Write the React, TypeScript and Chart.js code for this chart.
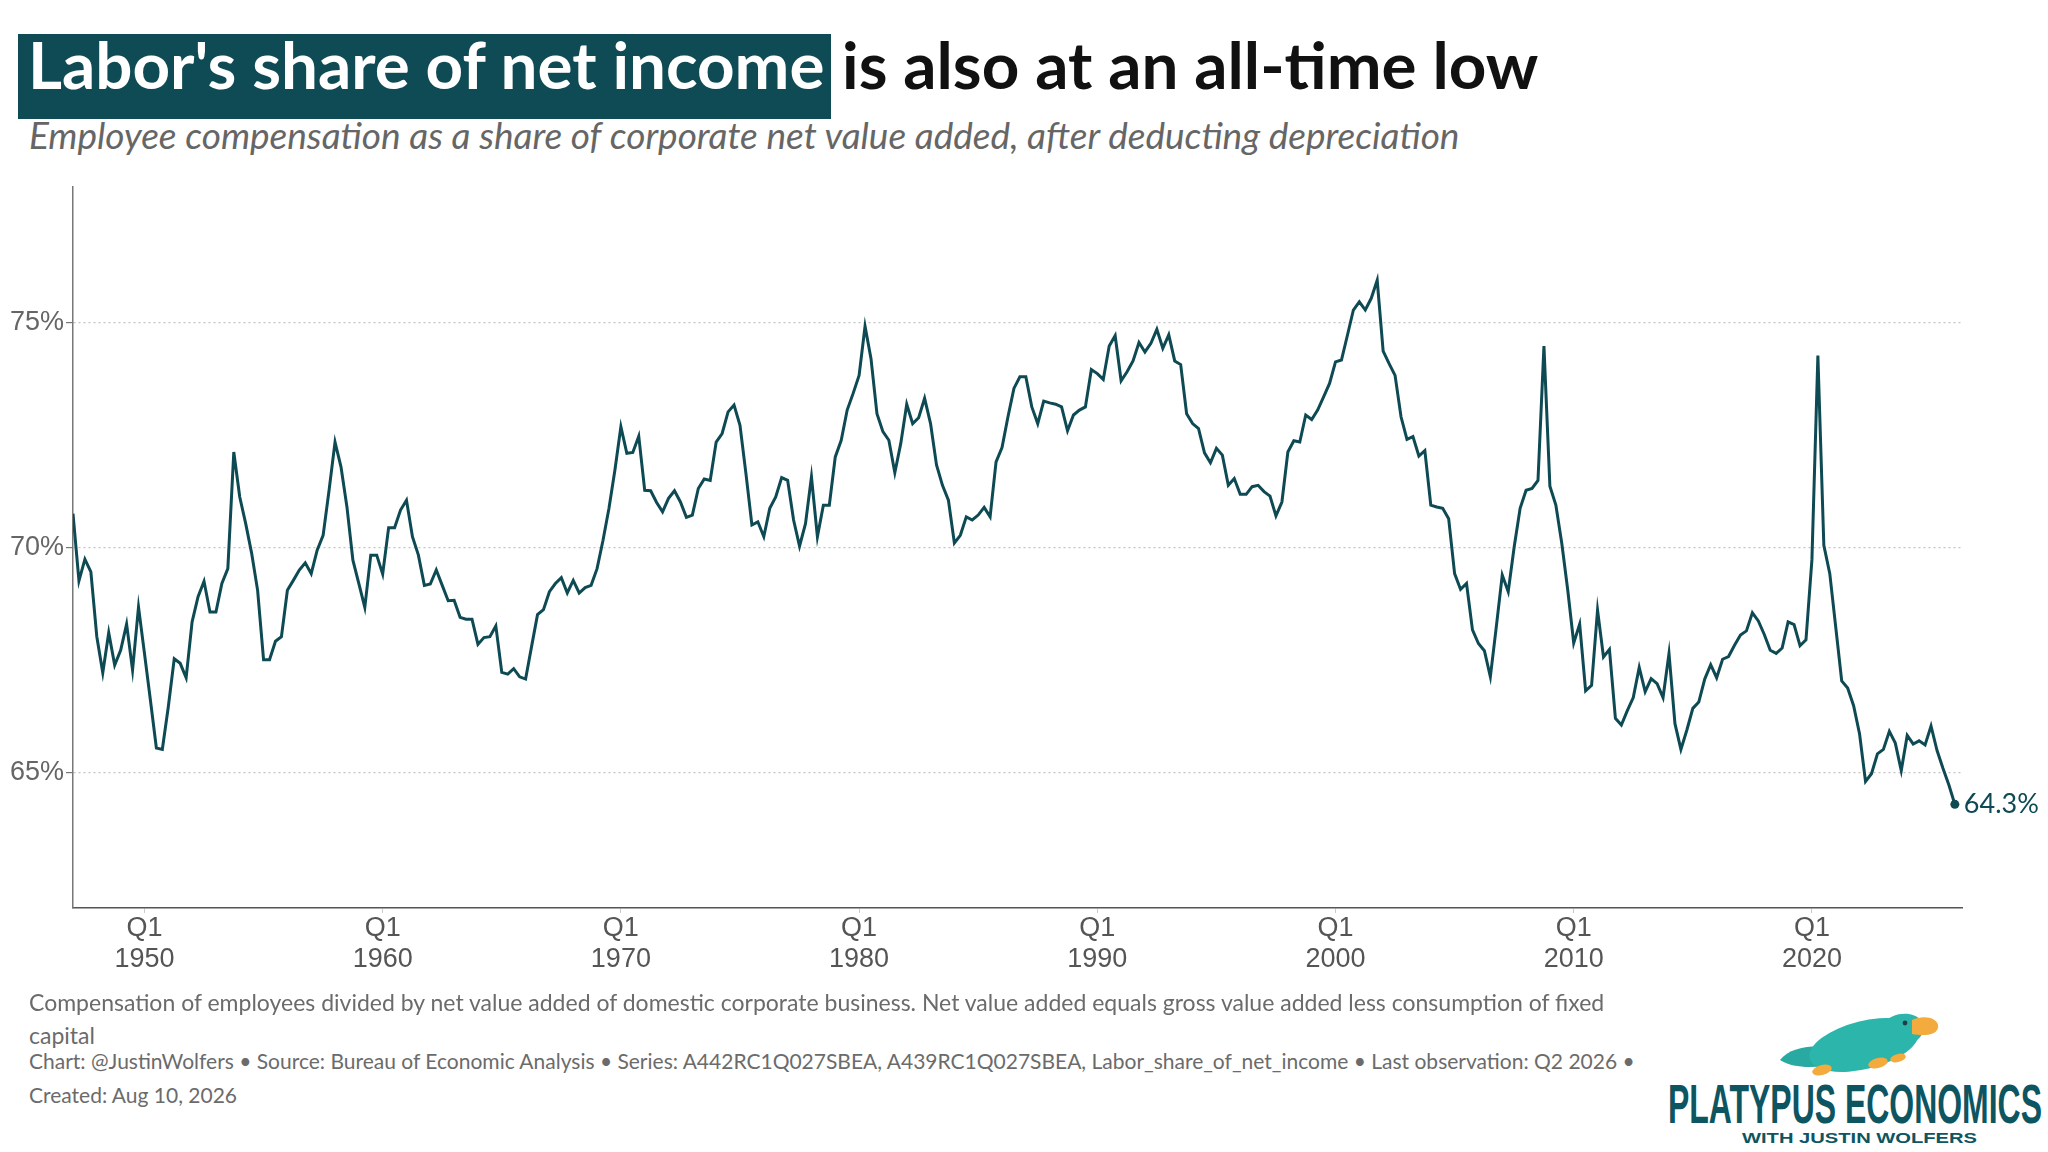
import { useEffect, useRef } from 'react';
import { Chart, registerables } from 'chart.js';

Chart.register(...registerables);

// Labor's share of net income (%), quarterly, starting 1947 Q1
const share1947s = [70.75, 69.26, 69.74, 69.46, 68.02, 67.22, 68.11, 67.39, 67.72, 68.3, 67.28, 68.68];
const share1950s = [
  67.65, 66.61, 65.55, 65.52, 66.46, 67.53, 67.43, 67.11, 68.35, 68.91,
  69.25, 68.57, 68.57, 69.2, 69.53, 72.12, 71.12, 70.53, 69.87, 69.05,
  67.51, 67.51, 67.92, 68.02, 69.05, 69.27, 69.5, 69.66, 69.42, 69.94,
  70.27, 71.27, 72.34, 71.79, 70.9, 69.72, 69.2, 68.67, 69.83, 69.83,
];
const share1960s = [
  69.41, 70.44, 70.44, 70.83, 71.05, 70.24, 69.83, 69.16, 69.19, 69.5,
  69.16, 68.82, 68.83, 68.45, 68.41, 68.41, 67.85, 68.0, 68.02, 68.26,
  67.23, 67.19, 67.31, 67.13, 67.08, 67.8, 68.51, 68.62, 69.02, 69.2,
  69.33, 68.99, 69.27, 68.99, 69.11, 69.16, 69.53, 70.16, 70.87, 71.72,
];
const share1970s = [
  72.68, 72.09, 72.11, 72.47, 71.27, 71.26, 71.0, 70.79, 71.09, 71.26,
  71.01, 70.67, 70.72, 71.31, 71.52, 71.49, 72.34, 72.53, 73.01, 73.16,
  72.71, 71.64, 70.5, 70.57, 70.24, 70.87, 71.12, 71.55, 71.49, 70.61,
  70.03, 70.53, 71.57, 70.24, 70.94, 70.94, 72.01, 72.38, 73.05, 73.42,
];
const share1980s = [
  73.82, 74.91, 74.19, 72.97, 72.57, 72.38, 71.66, 72.31, 73.18, 72.75,
  72.88, 73.31, 72.75, 71.83, 71.38, 71.05, 70.1, 70.27, 70.68, 70.61,
  70.72, 70.89, 70.68, 71.9, 72.22, 72.9, 73.53, 73.79, 73.79, 73.12,
  72.75, 73.25, 73.21, 73.18, 73.12, 72.59, 72.94, 73.05, 73.12, 73.95,
];
const share1990s = [
  73.86, 73.73, 74.47, 74.7, 73.7, 73.9, 74.14, 74.55, 74.34, 74.53,
  74.84, 74.42, 74.72, 74.14, 74.06, 72.97, 72.75, 72.64, 72.1, 71.88,
  72.2, 72.05, 71.38, 71.53, 71.18, 71.18, 71.35, 71.38, 71.24, 71.14,
  70.7, 71.01, 72.12, 72.37, 72.34, 72.94, 72.84, 73.05, 73.34, 73.64,
];
const share2000s = [
  74.12, 74.16, 74.71, 75.27, 75.45, 75.27, 75.53, 75.93, 74.36, 74.08,
  73.82, 72.9, 72.4, 72.46, 72.03, 72.15, 70.94, 70.9, 70.87, 70.64,
  69.42, 69.07, 69.2, 68.17, 67.87, 67.71, 67.13, 68.24, 69.39, 69.02,
  70.01, 70.87, 71.27, 71.31, 71.49, 74.47, 71.36, 70.94, 70.09, 69.05,
];
const share2010s = [
  67.88, 68.3, 66.82, 66.94, 68.61, 67.57, 67.74, 66.21, 66.06, 66.38,
  66.67, 67.34, 66.8, 67.09, 66.98, 66.67, 67.65, 66.09, 65.52, 65.95,
  66.43, 66.57, 67.08, 67.4, 67.11, 67.52, 67.58, 67.83, 68.06, 68.15,
  68.55, 68.37, 68.07, 67.72, 67.65, 67.77, 68.35, 68.29, 67.82, 67.95,
];
const share2020s = [
  69.73, 74.26, 70.05, 69.42, 68.23, 67.04, 66.88, 66.49, 65.86, 64.81,
  64.98, 65.42, 65.52, 65.92, 65.66, 65.05, 65.83, 65.64, 65.71, 65.62,
  66.04, 65.5, 65.1, 64.73, 64.3,
];

const shareValues = [
  ...share1947s, ...share1950s, ...share1960s, ...share1970s, ...share1980s,
  ...share1990s, ...share2000s, ...share2010s, ...share2020s,
];
const firstYear = 1947;
const xTickYears = [1950, 1960, 1970, 1980, 1990, 2000, 2010, 2020];
const yTickValues = [65, 70, 75];

const TEAL = '#0e4a53';
const GREY_TEXT = '#666666';

const endLabel = {
  id: 'endLabel',
  afterDatasetsDraw(chart: any) {
    const meta = chart.getDatasetMeta(0);
    const last = meta.data[meta.data.length - 1];
    if (!last) return;
    const ctx = chart.ctx;
    ctx.save();
    ctx.font = '27px Lato';
    ctx.fillStyle = TEAL;
    ctx.textAlign = 'left';
    ctx.textBaseline = 'middle';
    ctx.fillText(shareValues[shareValues.length - 1].toFixed(1) + '%', last.x + 9, last.y);
    ctx.restore();
  },
};

function LaborShareChart() {
  const canvasRef = useRef<HTMLCanvasElement>(null);

  useEffect(() => {
    if (!canvasRef.current) return;
    const lastIndex = shareValues.length - 1;

    const chart = new Chart(canvasRef.current, {
      type: 'line',
      data: {
        datasets: [{
          data: shareValues.map((v, i) => ({ x: firstYear + i / 4, y: v })),
          borderColor: TEAL,
          backgroundColor: TEAL,
          borderWidth: 3,
          tension: 0,
          pointRadius: (c: any) => (c.dataIndex === lastIndex ? 4.5 : 0),
          pointHoverRadius: 0,
          pointBorderWidth: 0,
        }],
      },
      options: {
        animation: false,
        responsive: true,
        maintainAspectRatio: false,
        layout: { padding: { top: 37, right: 86, left: 0, bottom: 0 } },
        plugins: {
          legend: { display: false },
          tooltip: { enabled: false },
        },
        scales: {
          x: {
            type: 'linear',
            min: 1947,
            max: 2026.3,
            afterBuildTicks: (scale: any) => {
              scale.ticks = xTickYears.map((v) => ({ value: v }));
            },
            afterFit: (scale: any) => {
              scale.height = 82;
            },
            ticks: {
              autoSkip: false,
              maxRotation: 0,
              padding: 0,
              color: '#555555',
              font: { family: 'Liberation Sans', size: 27, lineHeight: 1.15 },
              callback: (v: any) => ['Q1', String(v)],
            },
            grid: {
              drawOnChartArea: false,
              drawTicks: true,
              tickLength: 5,
              color: '#cccccc',
            },
            border: { color: '#555555', width: 1.5 },
          },
          y: {
            min: 62,
            max: 78,
            afterBuildTicks: (scale: any) => {
              scale.ticks = yTickValues.map((v) => ({ value: v }));
            },
            afterFit: (scale: any) => {
              scale.width = 73;
            },
            ticks: {
              padding: 2,
              color: GREY_TEXT,
              font: { family: 'Liberation Sans', size: 27 },
              callback: (v: any) => v + '%',
            },
            grid: {
              color: '#c4c4c4',
              lineWidth: 1.2,
              tickLength: 7,
              tickColor: '#777777',
              tickBorderDash: [],
            },
            border: { color: '#777777', width: 1.5, dash: [2, 3] },
          },
        },
      },
      plugins: [endLabel],
    });

    return () => chart.destroy();
  }, []);

  return <canvas ref={canvasRef} />;
}

function Logo() {
  return (
    <svg width={408} height={162} style={{ position: 'absolute', left: 1640, top: 990 }}>
      <g>
        <path d="M140 70 C150 56 178 54 196 58 L200 72 C182 78 156 80 140 70 Z" fill="#28a9a1" />
        <ellipse cx={224} cy={55} rx={56} ry={24} transform="rotate(-14 224 55)" fill="#2bb5ab" />
        <ellipse cx={262} cy={40} rx={22} ry={16} transform="rotate(-12 262 40)" fill="#2bb5ab" />
        <path d="M272 30 C284 24 300 28 298 38 C296 46 282 46 272 44 Z" fill="#f2ab3c" />
        <circle cx={265} cy={33} r={2.4} fill="#1d3f49" />
        <ellipse cx={182} cy={80} rx={10} ry={5} transform="rotate(-15 182 80)" fill="#f2ab3c" />
        <ellipse cx={238} cy={73} rx={10} ry={5} transform="rotate(-15 238 73)" fill="#f2ab3c" />
        <ellipse cx={258} cy={68} rx={8} ry={4} transform="rotate(-15 258 68)" fill="#f2ab3c" />
      </g>
      <text
        x={28}
        y={133}
        textLength={374}
        lengthAdjust="spacingAndGlyphs"
        fontFamily="'Liberation Sans Narrow', 'Liberation Sans'"
        fontWeight="bold"
        fontSize={55}
        fill="#0d5560"
      >
        PLATYPUS ECONOMICS
      </text>
      <text
        x={102}
        y={153}
        textLength={235}
        lengthAdjust="spacingAndGlyphs"
        fontFamily="'Liberation Sans'"
        fontWeight="bold"
        fontSize={15}
        fill="#0d5560"
      >
        WITH JUSTIN WOLFERS
      </text>
    </svg>
  );
}

export default function App() {
  const footStyle: any = {
    position: 'absolute',
    left: 29,
    fontFamily: 'Lato',
    lineHeight: '30px',
    color: '#6b6b6b',
    whiteSpace: 'nowrap',
  };

  return (
    <div style={{ position: 'fixed', left: 0, top: 0, width: 2048, height: 1152, background: '#fff', overflow: 'hidden' }}>
      <div
        style={{
          position: 'absolute', left: 18, top: 34, width: 813, height: 85,
          background: '#0f4b54', color: '#fff', boxSizing: 'border-box', paddingLeft: 10,
          fontFamily: 'Lato', fontWeight: 700, fontSize: 65.5, lineHeight: '60px', whiteSpace: 'nowrap',
        }}
      >
        Labor's share of net income
      </div>
      <div
        style={{
          position: 'absolute', left: 842, top: 34, color: '#111',
          fontFamily: 'Lato', fontWeight: 700, fontSize: 65.5, lineHeight: '60px', whiteSpace: 'nowrap',
        }}
      >
        is also at an all-time low
      </div>
      <div
        style={{
          position: 'absolute', left: 29, top: 114, color: GREY_TEXT,
          fontFamily: 'Lato', fontStyle: 'italic', fontSize: 37, lineHeight: '42px', whiteSpace: 'nowrap',
        }}
      >
        Employee compensation as a share of corporate net value added, after deducting depreciation
      </div>

      <div style={{ position: 'absolute', left: 0, top: 150, width: 2048, height: 840 }}>
        <LaborShareChart />
      </div>

      <div style={{ ...footStyle, top: 987, fontSize: 23 }}>
        Compensation of employees divided by net value added of domestic corporate business. Net value added equals gross value added less consumption of fixed
      </div>
      <div style={{ ...footStyle, top: 1020, fontSize: 23 }}>capital</div>
      <div style={{ ...footStyle, top: 1046, fontSize: 21 }}>
        Chart: @JustinWolfers • Source: Bureau of Economic Analysis • Series: A442RC1Q027SBEA, A439RC1Q027SBEA, Labor_share_of_net_income • Last observation: Q2 2026 •
      </div>
      <div style={{ ...footStyle, top: 1080, fontSize: 21 }}>Created: Aug 10, 2026</div>

      <Logo />
    </div>
  );
}
